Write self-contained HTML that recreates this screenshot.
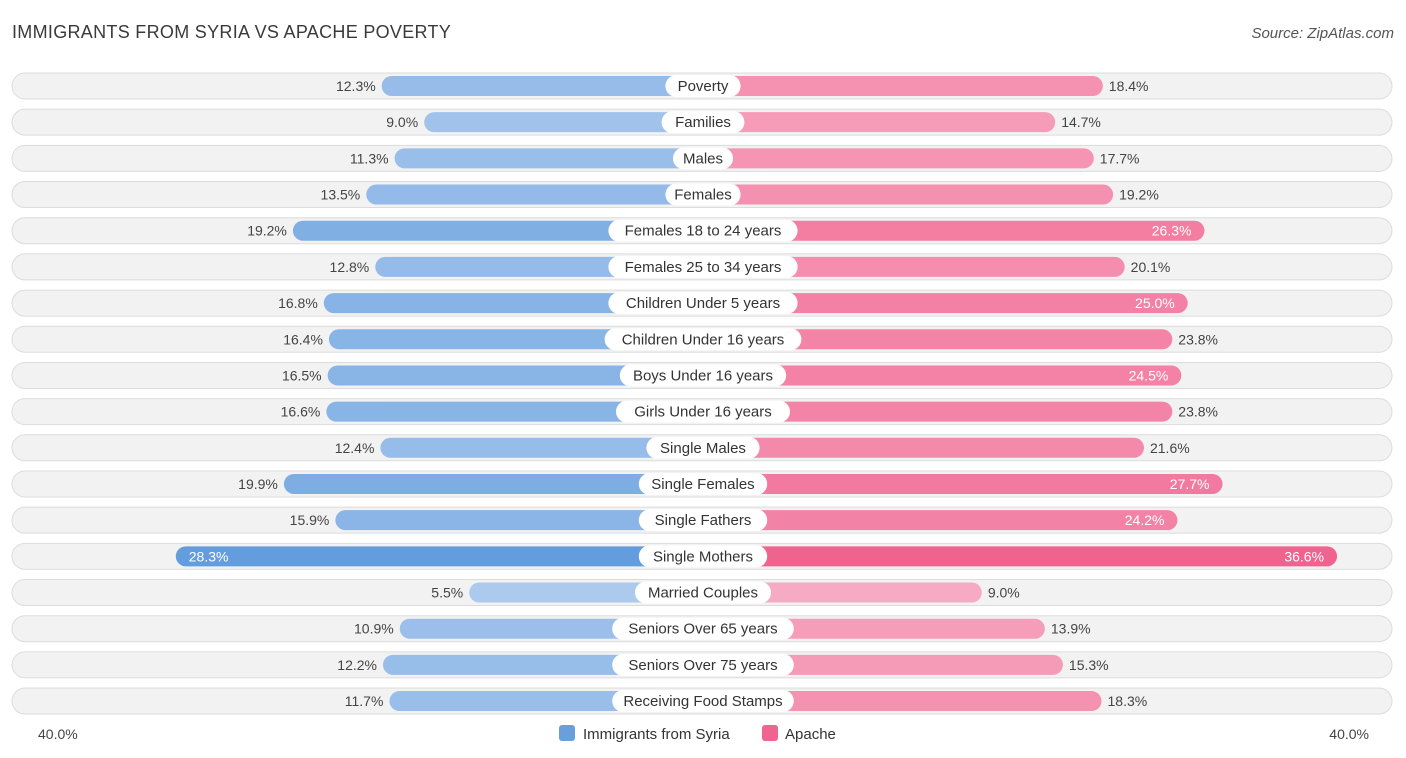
<!DOCTYPE html>
<html><head><meta charset="utf-8"><style>
body{margin:0;background:#fff;font-family:"Liberation Sans",sans-serif;}
#wrap{position:relative;width:1406px;height:758px;overflow:hidden}
.t{position:absolute;font-size:14px;color:#444}
</style></head><body>
<div id="wrap">
<div class="t" style="left:12px;top:22px;font-size:18px;color:#3a3a3a;letter-spacing:0.3px">IMMIGRANTS FROM SYRIA VS APACHE POVERTY</div>
<div class="t" style="right:12px;top:25px;font-size:15px;font-style:italic;color:#555">Source: ZipAtlas.com</div>
<svg id="svg" width="1406" height="758" style="position:absolute;left:0;top:0"></svg>
</div>
<script>
const categories=["Poverty","Families","Males","Females","Females 18 to 24 years","Females 25 to 34 years","Children Under 5 years","Children Under 16 years","Boys Under 16 years","Girls Under 16 years","Single Males","Single Females","Single Fathers","Single Mothers","Married Couples","Seniors Over 65 years","Seniors Over 75 years","Receiving Food Stamps"];
const syria=[12.3,9.0,11.3,13.5,19.2,12.8,16.8,16.4,16.5,16.6,12.4,19.9,15.9,28.3,5.5,10.9,12.2,11.7];
const apache=[18.4,14.7,17.7,19.2,26.3,20.1,25.0,23.8,24.5,23.8,21.6,27.7,24.2,36.6,9.0,13.9,15.3,18.3];
const axisLabels=["40.0%","40.0%"];
const NS="http://www.w3.org/2000/svg",svg=document.getElementById('svg');
const cx=703,y0=86,pitch=36.18;
function len(v){return 163+12.87*v;}
function mk(t,a){const e=document.createElementNS(NS,t);for(const k in a)e.setAttribute(k,a[k]);svg.appendChild(e);return e;}
function mix(c1,c2,f){return 'rgb('+c1.map((c,i)=>Math.round(c+(c2[i]-c)*f)).join(',')+')';}
categories.forEach((c,i)=>{
 const y=y0+i*pitch;
 const bg=mk('rect',{x:12,y:y-13,width:1380,height:26,rx:13,fill:'#f2f2f2',stroke:'#dcdcdc','stroke-width':1});
 
 const fs=Math.min(1,Math.max(0,(syria[i]-5)/23));
 const lb=len(syria[i]);
 const b1=mk('rect',{x:cx-lb,y:y-10,width:lb,height:20,rx:10,fill:mix([174,203,238],[100,157,222],fs)});
 
 const fa=Math.min(1,Math.max(0,(apache[i]-9)/28));
 const la=len(apache[i]);
 const b2=mk('rect',{x:cx,y:y-10,width:la,height:20,rx:10,fill:mix([247,170,195],[240,98,142],fa)});
 
 const inS=syria[i]>=25,inA=apache[i]>=24;
 const t1=mk('text',{x:inS?cx-lb+13:cx-lb-6,y:y+5,'text-anchor':inS?'start':'end','font-size':14,fill:inS?'#fff':'#444','font-family':'Liberation Sans'});
 t1.textContent=syria[i].toFixed(1)+'%';
 
 const t2=mk('text',{x:inA?cx+la-13:cx+la+6,y:y+5,'text-anchor':inA?'end':'start','font-size':14,fill:inA?'#fff':'#444','font-family':'Liberation Sans'});
 t2.textContent=apache[i].toFixed(1)+'%';
 
 const w=c.length*7.6+22;
 const p=mk('rect',{x:cx-w/2,y:y-11,width:w,height:22,rx:11,fill:'#fff'});
 
 const t=mk('text',{x:cx,y:y+5,'text-anchor':'middle','font-size':15,fill:'#333','font-family':'Liberation Sans'});
 t.textContent=c;
 
});
const a1=mk('text',{x:38,y:739,'font-size':14,fill:'#444','font-family':'Liberation Sans'});a1.textContent=axisLabels[0];

const a2=mk('text',{x:1369,y:739,'text-anchor':'end','font-size':14,fill:'#444','font-family':'Liberation Sans'});a2.textContent=axisLabels[1];

const l1=mk('rect',{x:559,y:725,width:16,height:16,rx:3,fill:'#6a9fdc'});

const lt1=mk('text',{x:583,y:739,'font-size':15,fill:'#333','font-family':'Liberation Sans'});lt1.textContent='Immigrants from Syria';

const l2=mk('rect',{x:762,y:725,width:16,height:16,rx:3,fill:'#f06590'});

const lt2=mk('text',{x:785,y:739,'font-size':15,fill:'#333','font-family':'Liberation Sans'});lt2.textContent='Apache';

</script>
</body></html>
